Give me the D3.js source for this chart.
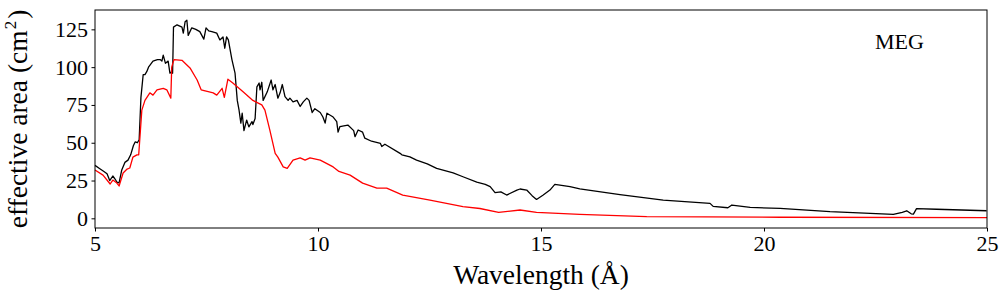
<!DOCTYPE html>
<html>
<head>
<meta charset="utf-8">
<script src="https://cdn.jsdelivr.net/npm/d3@7"></script>
<style>
  body { margin: 0; background: #fff; }
  svg text { font-family: "Liberation Serif", "DejaVu Serif", serif; fill: #000; }
</style>
</head>
<body>
<div id="chart"></div>
<script>
// wavelength (Angstrom) and effective area (cm^2)
const wlBlack = [5.00, 5.10, 5.20, 5.27, 5.33, 5.40, 5.45, 5.49, 5.54, 5.60, 5.67, 5.74, 5.80, 5.86, 5.90, 5.95, 5.99,
  6.03, 6.08, 6.12, 6.16, 6.20, 6.30, 6.40, 6.46, 6.50, 6.53, 6.58, 6.64, 6.68, 6.72, 6.74, 6.76, 6.84, 6.95, 6.98,
  7.02, 7.06, 7.09, 7.17, 7.26, 7.35, 7.44, 7.49, 7.55, 7.62, 7.73, 7.80, 7.87, 7.91, 7.95, 7.99, 8.07, 8.14, 8.19,
  8.23, 8.27, 8.30, 8.34, 8.40, 8.45, 8.52, 8.54, 8.59, 8.63, 8.68, 8.70, 8.74, 8.77, 8.86, 8.95, 8.99, 9.04, 9.10,
  9.15, 9.20, 9.26, 9.33, 9.37, 9.44, 9.53, 9.60, 9.67, 9.75, 9.80, 9.87, 9.93, 10.05, 10.11, 10.16, 10.20, 10.34,
  10.42, 10.45, 10.49, 10.67, 10.80, 10.83, 10.90, 11.00, 11.05, 11.20, 11.40, 11.43, 11.50, 11.84, 11.88, 12.06,
  12.21, 12.45, 12.66, 13.03, 13.25, 13.56, 13.75, 13.86, 13.97, 14.10, 14.23, 14.46, 14.53, 14.68, 14.80, 14.90,
  15.05, 15.20, 15.31, 15.65, 15.87, 16.77, 17.74, 18.79, 18.86, 19.19, 19.28, 19.69, 20.36, 21.48, 22.90, 23.10,
  23.20, 23.30, 23.35, 23.42, 23.87, 24.99];
const areaBlack = [35, 33, 31, 29.5, 25, 28, 26, 24, 23.5, 32, 37, 38.5, 42, 48, 50.5, 50, 52,
  80, 95, 95, 97, 100, 104, 105, 105, 104, 108, 102.5, 104, 96, 97, 96, 126.5, 128, 126.5, 122.5,
  130, 131, 121, 126, 125, 123.5, 118.5, 126, 124, 123.5, 122.5, 118, 120, 112.5, 120, 118, 105, 96, 78,
  71.5, 63, 69.5, 58, 65, 60.5, 64, 62, 66, 87, 89.5, 85, 90, 78, 83.5, 91.5, 85, 88.5, 79.5,
  83, 88.5, 80.5, 78, 79.5, 77, 78, 74, 77, 79.5, 78, 70, 72.5, 70, 67, 63, 69.5, 67,
  64, 57, 60.6, 61.7, 58, 54, 58.4, 57, 53, 51, 49.5, 47.5, 49, 43, 42, 40.7,
  38.5, 36, 33, 30, 27.5, 24, 22.5, 21, 17, 17.5, 15.4, 18.7, 19.4, 18.7, 15, 12.5,
  15.4, 18.7, 22.5, 21, 19.5, 15.7, 12, 9.9, 7.9, 7, 8.8, 7.2, 6.6, 4.4, 2.6, 4,
  5, 3, 2.8, 6.4, 6, 5];

const wlRed = [5.00, 5.18, 5.34, 5.40, 5.49, 5.54, 5.63, 5.72, 5.78, 5.85, 5.94, 5.98, 6.05, 6.12, 6.23, 6.30, 6.39,
  6.53, 6.61, 6.70, 6.72, 6.77, 6.95, 7.13, 7.29, 7.38, 7.65, 7.73, 7.85, 7.90, 7.98, 8.09, 8.32, 8.54, 8.74, 8.81,
  8.92, 9.04, 9.10, 9.22, 9.31, 9.44, 9.60, 9.71, 9.82, 10.05, 10.34, 10.47, 10.72, 11.00, 11.32, 11.54, 11.90,
  12.51, 13.25, 13.63, 14.05, 14.53, 14.90, 15.87, 17.37, 20.36, 25.00];
const areaRed = [32, 28.6, 22.7, 25.3, 23.3, 21.4, 30, 32.6, 33.3, 40.5, 42, 42, 71.6, 78, 83, 81.5, 85,
  86, 85, 79.5, 100, 105, 104.5, 99.5, 91.5, 85, 83, 81.5, 86, 80, 92, 89.5, 83.7, 78, 75, 71.6,
  58.4, 43, 40.5, 34, 33, 38.5, 40, 38.5, 40, 38.5, 34, 31, 28.6, 23.3, 20, 20, 15.4,
  12, 7.7, 6.5, 4, 5.5, 4, 2.6, 1.1, 0.7, 0.4];

const xTicks = [5, 10, 15, 20, 25];
const yTicks = [0, 25, 50, 75, 100, 125];

const W = 1007, H = 299;
const margin = { top: 10, right: 20, bottom: 71, left: 95 };
const width = W - margin.left - margin.right;
const height = H - margin.top - margin.bottom;

const svg = d3.select("#chart").append("svg")
  .attr("width", W)
  .attr("height", H);

const g = svg.append("g")
  .attr("transform", "translate(" + margin.left + "," + margin.top + ")");

const x = d3.scaleLinear().domain([5, 25]).range([0, width]);
const y = d3.scaleLinear().domain([-6.4, 137.8]).range([height, 0]);

// axes
const xAxis = g.append("g")
  .attr("transform", "translate(0," + height + ")")
  .call(d3.axisBottom(x).tickValues(xTicks).tickFormat(d3.format("d")).tickSize(3.5).tickPadding(3.5).tickSizeOuter(0));
const yAxis = g.append("g")
  .call(d3.axisLeft(y).tickValues(yTicks).tickFormat(d3.format("d")).tickSize(3.5).tickPadding(3.5).tickSizeOuter(0));

[xAxis, yAxis].forEach(a => {
  a.select(".domain").remove();
  a.selectAll(".tick line").attr("stroke", "#000").attr("stroke-width", 1);
  a.selectAll(".tick text")
    .style("font-family", '"Liberation Serif", "DejaVu Serif", serif')
    .style("font-size", "22px")
    .attr("fill", "#000");
});

// curves
const line = d3.line().x(d => x(d[0])).y(d => y(d[1]));

g.append("path")
  .datum(d3.zip(wlBlack, areaBlack))
  .attr("fill", "none")
  .attr("stroke", "#000")
  .attr("stroke-width", 1.3)
  .attr("stroke-linejoin", "round")
  .attr("d", line);

g.append("path")
  .datum(d3.zip(wlRed, areaRed))
  .attr("fill", "none")
  .attr("stroke", "#ff0000")
  .attr("stroke-width", 1.3)
  .attr("stroke-linejoin", "round")
  .attr("d", line);

// frame
g.append("rect")
  .attr("width", width)
  .attr("height", height)
  .attr("fill", "none")
  .attr("stroke", "#000")
  .attr("stroke-width", 1);

// labels
g.append("text")
  .attr("x", width - 112)
  .attr("y", 39)
  .style("font-size", "22px")
  .text("MEG");

svg.append("text")
  .attr("x", margin.left + width / 2)
  .attr("y", 284)
  .attr("text-anchor", "middle")
  .style("font-size", "27.5px")
  .text("Wavelength (Å)");

const yl = svg.append("text")
  .attr("transform", "translate(27," + (margin.top + height / 2) + ") rotate(-90)")
  .attr("text-anchor", "middle")
  .style("font-size", "27.5px");
yl.append("tspan").text("effective area (cm");
yl.append("tspan").attr("dx", 1).attr("dy", -11).style("font-size", "17px").text("2");
yl.append("tspan").attr("dx", 2).attr("dy", 11).text(")");
</script>
</body>
</html>
